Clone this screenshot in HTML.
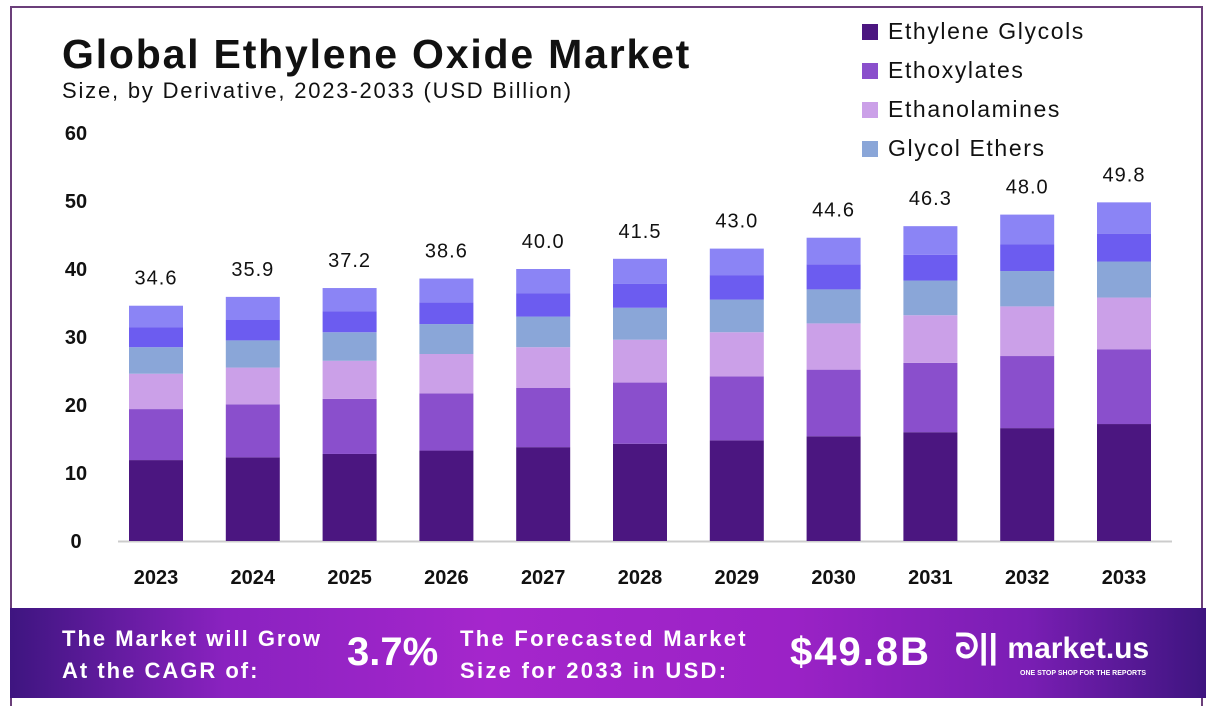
<!DOCTYPE html>
<html><head><meta charset="utf-8"><style>
body{margin:0;width:1216px;height:725px;background:#fff;font-family:"Liberation Sans",sans-serif;overflow:hidden;position:relative}
.frame{position:absolute;left:10px;top:6px;width:1193px;height:700px;border:2px solid #6b3f7a;border-bottom:none;box-sizing:border-box}
.t{position:absolute;white-space:nowrap}
.banner{position:absolute;left:10px;top:608px;width:1196px;height:90px;background:linear-gradient(90deg,#3e1580 0%,#8a22c0 18%,#a526cc 40%,#9b22c6 65%,#7a1eb4 85%,#3e1580 100%);color:#fff;font-weight:bold}
</style></head><body>
<div class="frame"></div>
<div class="t" style="left:62px;top:31px;font-size:41px;font-weight:bold;color:#111;letter-spacing:1.8px">Global Ethylene Oxide Market</div>
<div class="t" style="left:62px;top:78px;font-size:22px;color:#111;letter-spacing:1.8px">Size, by Derivative, 2023-2033 (USD Billion)</div>
<svg id="chart" width="1216" height="610" style="position:absolute;left:0;top:0"></svg>
<div class="banner">
<div class="t" style="left:52px;top:15px;font-size:22px;line-height:32px;letter-spacing:2px">The Market will Grow<br>At the CAGR of:</div>
<div class="t" style="left:337px;top:22px;font-size:40px">3.7%</div>
<div class="t" style="left:450px;top:15px;font-size:22px;line-height:32px;letter-spacing:2.3px">The Forecasted Market<br>Size for 2033 in USD:</div>
<div class="t" style="left:780px;top:22px;font-size:40px;letter-spacing:2px">$49.8B</div>
<div class="t" style="left:945px;top:20px;font-size:34px">ᘐ|| <span style="font-size:30px">market.us</span></div>
<div class="t" style="left:1010px;top:62px;font-size:7px">ONE STOP SHOP FOR THE REPORTS</div>
</div>
<script>
const years=["2023","2024","2025","2026","2027","2028","2029","2030","2031","2032","2033"];
const ethyleneGlycols=[11.9,12.3,12.8,13.3,13.8,14.3,14.8,15.4,16.0,16.6,17.2];
const ethoxylates=[7.5,7.8,8.1,8.4,8.7,9.0,9.4,9.8,10.2,10.6,11.0];
const ethanolamines=[5.2,5.4,5.6,5.8,6.0,6.3,6.5,6.8,7.0,7.3,7.6];
const glycolEthers=[3.9,4.0,4.2,4.4,4.5,4.7,4.8,5.0,5.1,5.2,5.3];
const otherA=[2.9,3.0,3.1,3.2,3.4,3.5,3.6,3.7,3.8,3.9,4.1];
const otherB=[3.2,3.4,3.4,3.5,3.6,3.7,3.9,3.9,4.2,4.4,4.6];
const totals=["34.6","35.9","37.2","38.6","40.0","41.5","43.0","44.6","46.3","48.0","49.8"];
const yTicks=[0,10,20,30,40,50,60];
const seriesNames=["ethylene-glycols","ethoxylates","ethanolamines","glycol-ethers","other-a","other-b"];
const series=[ethyleneGlycols,ethoxylates,ethanolamines,glycolEthers,otherA,otherB];
const colors=["#4b1680","#8a4fcc","#cba0e8","#8aa6d8","#6c5cf0","#8b84f5"];
const legend=["Ethylene Glycols","Ethoxylates","Ethanolamines","Glycol Ethers"];
const svg=document.getElementById('chart');const NS="http://www.w3.org/2000/svg";
const y=v=>541-v*6.8;const x=i=>156+i*96.8;const bw=54;
function mk(t,a){const e=document.createElementNS(NS,t);for(const k in a)e.setAttribute(k,a[k]);svg.appendChild(e);return e;}
yTicks.forEach(v=>{const e=mk('text',{x:76,y:y(v)+7,'text-anchor':'middle','font-size':20,'font-weight':'bold',fill:'#111'});e.textContent=v;

});
const ax=mk('line',{x1:118,x2:1172,y1:541.5,y2:541.5,stroke:'#ccc','stroke-width':2});


years.forEach((yr,i)=>{let base=0;
series.forEach((s,k)=>{const r=mk('rect',{x:x(i)-bw/2,y:y(base+s[i]),width:bw,height:y(base)-y(base+s[i]),fill:colors[k]});


base+=s[i];});
const tl=mk('text',{x:x(i),y:y(base)-21,'text-anchor':'middle','font-size':20,fill:'#111','letter-spacing':1});tl.textContent=totals[i];


const xl=mk('text',{x:x(i),y:584,'text-anchor':'middle','font-size':20,'font-weight':'bold',fill:'#111'});xl.textContent=yr;

});
legend.forEach((n,k)=>{const r=mk('rect',{x:862,y:24+k*39,width:16,height:16,fill:colors[k]});


const t=mk('text',{x:888,y:39+k*39,'font-size':23,fill:'#111','letter-spacing':1.6});t.textContent=n;

});
</script>
</body></html>
